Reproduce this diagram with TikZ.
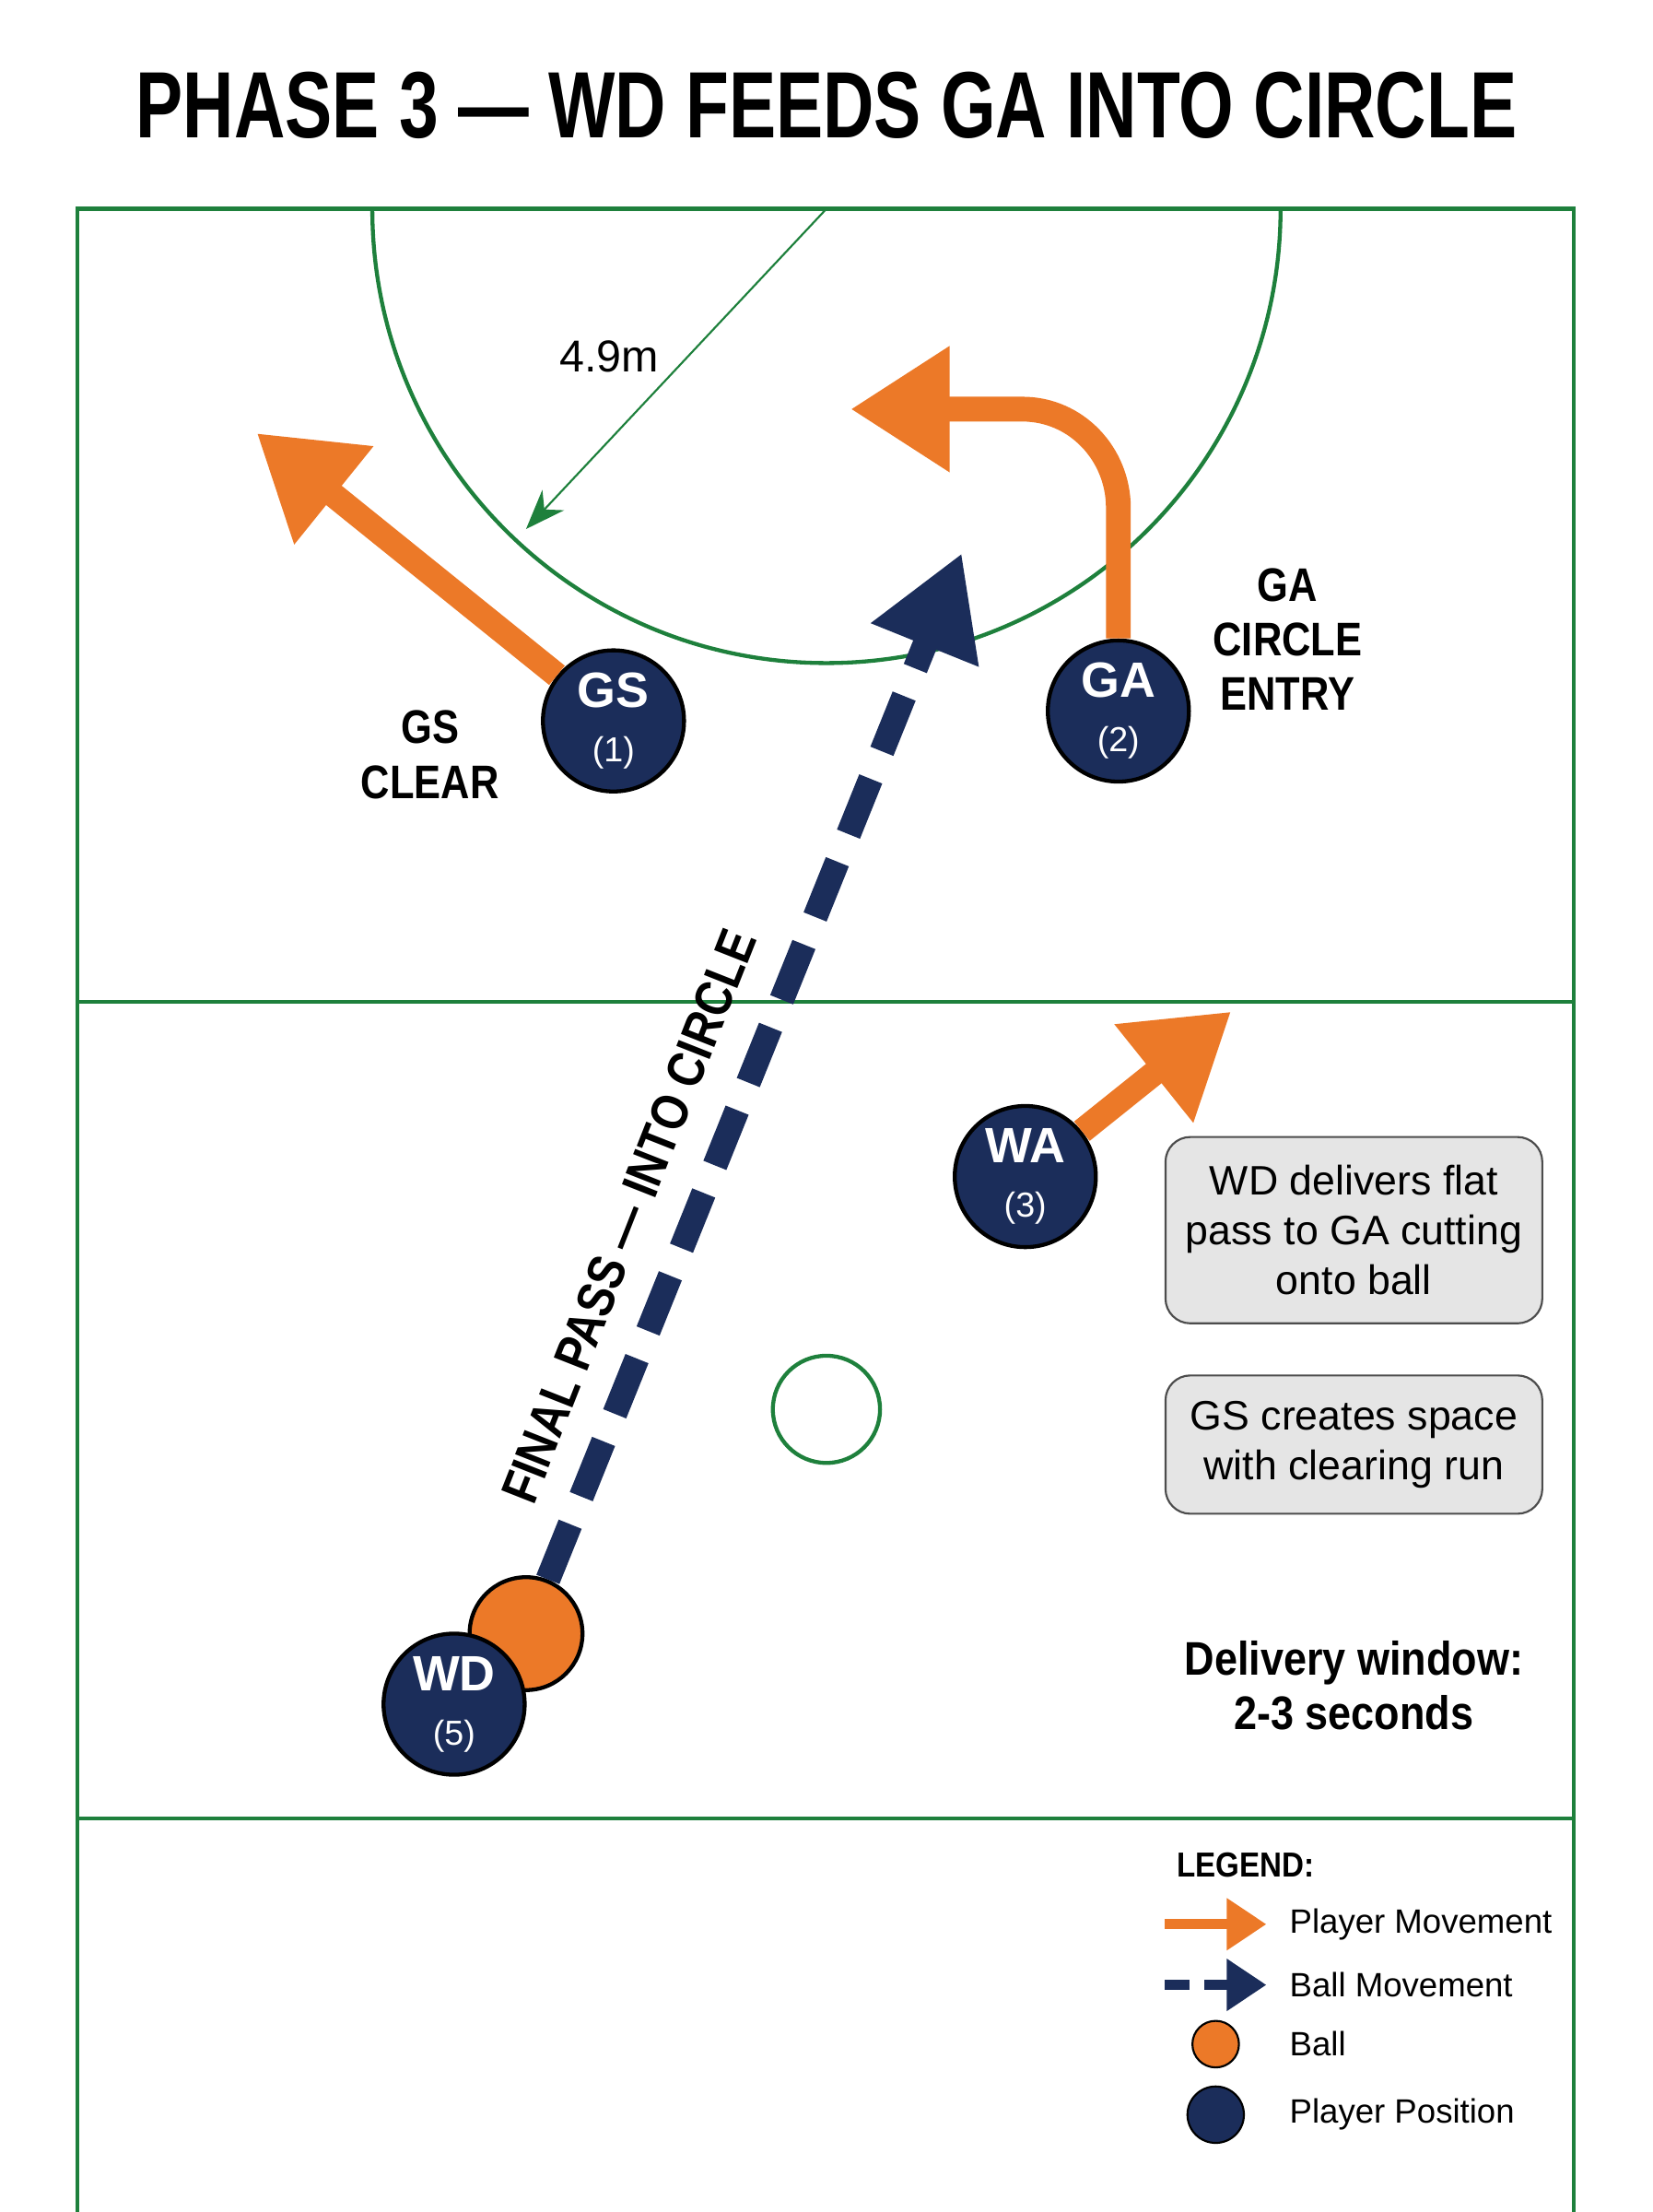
\documentclass[tikz,border=0pt]{standalone}
\usepackage{fontspec}
\setmainfont{Liberation Sans}
\usetikzlibrary{arrows.meta,positioning,calc}
\definecolor{court}{RGB}{30,128,60}
\definecolor{navy}{RGB}{27,45,90}
\definecolor{runorange}{RGB}{236,121,40}
\tikzset{
  player/.style={circle, draw=black, thick, fill=navy, minimum size=1cm, text=white, align=center, font=\fontsize{10}{10}\selectfont, inner sep=0pt},
  run/.style={runorange, line width=5pt, -{Triangle[length=20pt, width=24pt]}},
  pass/.style={navy, line width=5pt, dash pattern=on 12pt off 6pt, -{Triangle[length=20pt, width=22pt]}},
  note/.style={draw=black!70, fill=black!10, rounded corners=5pt, minimum width=2.67cm, align=center, font=\fontsize{8.3}{10}\selectfont},
  callout/.style={font=\bfseries\fontsize{9.5}{11}\selectfont, align=center}
}
\begin{document}
\begin{tikzpicture}[x=0.01cm, y=-0.01cm]
\useasboundingbox (0,0) rectangle (1172,1568);
\node (title) at (586,75) {\scalebox{0.75}[1]{\bfseries\fontsize{19}{19}\selectfont PHASE 3 --- WD FEEDS GA INTO CIRCLE}};

% court
\draw[court, thick] (55,1568) -- (55,148) -- (1116,148) -- (1116,1568);
\draw[court, thick] (55,710) -- (1116,710);
\draw[court, thick] (55,1289) -- (1116,1289);
\draw[court, thick] (264,148) arc[start angle=180, end angle=0, radius=322];
\draw[court, thick] (586,999) circle[radius=38];

% radius
\coordinate (rc) at (586,148);
\coordinate (re) at (373,375);
\draw[court, -{Stealth[length=8pt]}] (rc) -- (re);
\node (rad) at (432,253) {\fontsize{9}{9}\selectfont 4.9m};

% players
\node[player] (gs) at (435,511) {\textbf{GS}\\[1pt]\scriptsize(1)};
\node[player] (ga) at (793,504) {\textbf{GA}\\[1pt]\scriptsize(2)};
\node[player] (wa) at (727,834) {\textbf{WA}\\[1pt]\scriptsize(3)};
\node[circle, draw=black, thick, fill=runorange, minimum size=0.8cm] (ball) at (373,1158) {};
\node[player] (wd) at (322,1208) {\textbf{WD}\\[1pt]\scriptsize(5)};

% movement
\coordinate (gsend) at (182,307);
\coordinate (gaend) at (603,290);
\coordinate (waend) at (873,717);
\coordinate (passend) at (682,392);
\draw[run] (gs) -- (gsend);
\draw[run] (ga.north) -- (793,360) to[out=90, in=0] (725,290) -- (gaend);
\draw[run] (wa) -- (waend);
\draw[pass] (ball) -- (passend);
\node[font=\bfseries\fontsize{10.5}{10.5}\selectfont, rotate=68.5] (passlbl) at (446,862) {\scalebox{0.85}[1]{FINAL PASS --- INTO CIRCLE}};

% callouts
\node[callout] (gsclear) at (305,535) {\scalebox{0.85}[1]{GS}\\\scalebox{0.85}[1]{CLEAR}};
\node[callout] (gaentry) at (913,453) {\scalebox{0.85}[1]{GA}\\\scalebox{0.85}[1]{CIRCLE}\\\scalebox{0.85}[1]{ENTRY}};
\node[note, minimum height=1.32cm] (n1) at (960,872) {WD delivers flat\\pass to GA cutting\\onto ball};
\node[note, minimum height=0.98cm] (n2) at (960,1024) {GS creates space\\with clearing run};
\node[callout] (window) at (960,1195) {\scalebox{0.88}[1]{Delivery window:}\\\scalebox{0.88}[1]{2-3 seconds}};

% legend
\node[font=\bfseries\fontsize{7}{7}\selectfont, anchor=west] (leg) at (822,1322) {\scalebox{0.88}[1]{LEGEND:}};
\coordinate (l1a) at (826,1364); \coordinate (l1b) at (898,1364);
\coordinate (l2a) at (826,1407); \coordinate (l2b) at (898,1407);
\draw[runorange, line width=2pt, -{Triangle[length=8pt, width=10pt]}] (l1a) -- (l1b);
\draw[navy, line width=2pt, dash pattern=on 5pt off 3pt, -{Triangle[length=8pt, width=10pt]}] (l2a) -- (l2b);
\node[circle, draw=black, fill=runorange, minimum size=0.33cm, inner sep=0pt] (lball) at (862,1449) {};
\node[circle, draw=black, fill=navy, minimum size=0.4cm, inner sep=0pt] (lplayer) at (862,1499) {};
\foreach \y/\txt in {1364/Player Movement, 1407/Ball Movement, 1449/Ball, 1499/Player Position}
  \node[anchor=west, font=\fontsize{6.8}{7}\selectfont] at (902,\y) {\txt};
\end{tikzpicture}
\end{document}
